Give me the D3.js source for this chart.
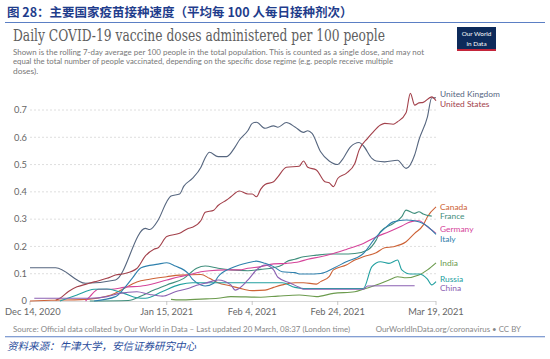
<!DOCTYPE html>
<html><head><meta charset="utf-8">
<script src="https://cdn.jsdelivr.net/npm/d3@7/dist/d3.min.js"></script>
<style>
html,body{margin:0;padding:0;background:#fff;}
svg{display:block;}
</style>
</head><body>
<svg id="c" width="550" height="359"></svg>
<script>
// ---------- DATA ----------
const seriesNames = ["United Kingdom","United States","Canada","France","Germany","Italy","India","Russia","China"];
const seriesColors = ["#56667f","#a3414b","#cd6236","#3f8e7c","#d5449a","#2f80ad","#6c9b4e","#22a0a0","#8a60b2"];
const xTickDates = ["2020-12-14","2021-01-15","2021-02-04","2021-02-24","2021-03-19"];
const xTickLabels = ["Dec 14, 2020","Jan 15, 2021","Feb 4, 2021","Feb 24, 2021","Mar 19, 2021"];
const yTicks = [0,0.1,0.2,0.3,0.4,0.5,0.6,0.7];

const ukData = [["2020-12-14",0.122],["2020-12-20",0.122],["2020-12-27",0.065],["2021-01-03",0.077],["2021-01-10",0.266],["2021-01-11",0.262],["2021-01-13",0.297],["2021-01-15",0.364],["2021-01-16",0.385],["2021-01-18",0.392],["2021-01-19",0.421],["2021-01-21",0.449],["2021-01-23",0.49],["2021-01-24",0.525],["2021-01-25",0.545],["2021-01-27",0.529],["2021-01-29",0.529],["2021-01-31",0.565],["2021-02-01",0.59],["2021-02-03",0.625],["2021-02-04",0.651],["2021-02-05",0.655],["2021-02-07",0.633],["2021-02-09",0.642],["2021-02-10",0.637],["2021-02-12",0.654],["2021-02-14",0.638],["2021-02-16",0.618],["2021-02-17",0.624],["2021-02-18",0.614],["2021-02-20",0.547],["2021-02-22",0.513],["2021-02-24",0.5],["2021-02-25",0.516],["2021-02-27",0.565],["2021-03-01",0.581],["2021-03-02",0.569],["2021-03-04",0.523],["2021-03-05",0.513],["2021-03-07",0.51],["2021-03-10",0.516],["2021-03-12",0.486],["2021-03-14",0.535],["2021-03-15",0.59],["2021-03-17",0.675],["2021-03-18",0.745],["2021-03-19",0.745]];
const usData = [["2020-12-20",0.003],["2020-12-21",0.01],["2020-12-23",0.035],["2020-12-25",0.052],["2020-12-27",0.061],["2020-12-29",0.07],["2021-01-01",0.083],["2021-01-03",0.095],["2021-01-05",0.1],["2021-01-08",0.119],["2021-01-10",0.165],["2021-01-12",0.19],["2021-01-13",0.195],["2021-01-15",0.236],["2021-01-18",0.248],["2021-01-20",0.266],["2021-01-21",0.27],["2021-01-23",0.295],["2021-01-24",0.325],["2021-01-26",0.333],["2021-01-27",0.35],["2021-01-29",0.37],["2021-01-30",0.382],["2021-02-01",0.403],["2021-02-03",0.392],["2021-02-04",0.392],["2021-02-05",0.382],["2021-02-06",0.41],["2021-02-07",0.427],["2021-02-09",0.437],["2021-02-10",0.455],["2021-02-12",0.49],["2021-02-15",0.494],["2021-02-16",0.513],["2021-02-17",0.49],["2021-02-19",0.48],["2021-02-21",0.437],["2021-02-22",0.433],["2021-02-23",0.419],["2021-02-24",0.449],["2021-02-26",0.468],["2021-02-28",0.504],["2021-03-01",0.553],["2021-03-03",0.596],["2021-03-04",0.614],["2021-03-06",0.645],["2021-03-07",0.651],["2021-03-09",0.648],["2021-03-10",0.657],["2021-03-12",0.69],["2021-03-13",0.761],["2021-03-14",0.718],["2021-03-15",0.726],["2021-03-16",0.728],["2021-03-18",0.748],["2021-03-19",0.734]];
const canadaData = [["2020-12-14",0.0],["2020-12-19",0.003],["2020-12-26",0.005],["2021-01-02",0.022],["2021-01-05",0.046],["2021-01-08",0.07],["2021-01-11",0.08],["2021-01-15",0.089],["2021-01-18",0.095],["2021-01-23",0.097],["2021-01-25",0.083],["2021-01-27",0.067],["2021-01-30",0.055],["2021-02-02",0.043],["2021-02-04",0.038],["2021-02-07",0.04],["2021-02-09",0.05],["2021-02-11",0.059],["2021-02-14",0.067],["2021-02-16",0.067],["2021-02-19",0.062],["2021-02-20",0.071],["2021-02-22",0.089],["2021-02-23",0.114],["2021-02-26",0.132],["2021-02-28",0.15],["2021-03-02",0.162],["2021-03-05",0.177],["2021-03-07",0.195],["2021-03-09",0.199],["2021-03-12",0.217],["2021-03-14",0.248],["2021-03-16",0.278],["2021-03-17",0.309],["2021-03-19",0.345]];
const franceData = [["2020-12-28",0.0],["2021-01-06",0.002],["2021-01-09",0.018],["2021-01-12",0.04],["2021-01-15",0.059],["2021-01-19",0.083],["2021-01-22",0.12],["2021-01-24",0.128],["2021-01-27",0.12],["2021-01-30",0.114],["2021-02-03",0.111],["2021-02-06",0.116],["2021-02-09",0.122],["2021-02-11",0.132],["2021-02-12",0.144],["2021-02-14",0.153],["2021-02-16",0.162],["2021-02-19",0.168],["2021-02-22",0.172],["2021-02-25",0.172],["2021-02-28",0.174],["2021-03-03",0.187],["2021-03-05",0.223],["2021-03-06",0.254],["2021-03-09",0.284],["2021-03-11",0.309],["2021-03-12",0.333],["2021-03-14",0.321],["2021-03-15",0.327],["2021-03-16",0.319],["2021-03-18",0.311]];
const germanyData = [["2020-12-27",0.0],["2020-12-28",0.016],["2020-12-30",0.043],["2021-01-02",0.043],["2021-01-05",0.05],["2021-01-10",0.057],["2021-01-15",0.077],["2021-01-18",0.089],["2021-01-20",0.095],["2021-01-23",0.107],["2021-01-25",0.111],["2021-01-29",0.114],["2021-02-01",0.114],["2021-02-03",0.12],["2021-02-06",0.126],["2021-02-09",0.136],["2021-02-12",0.138],["2021-02-15",0.144],["2021-02-17",0.153],["2021-02-20",0.162],["2021-02-23",0.174],["2021-02-26",0.189],["2021-03-02",0.211],["2021-03-05",0.235],["2021-03-08",0.254],["2021-03-11",0.275],["2021-03-13",0.29],["2021-03-15",0.294],["2021-03-17",0.272],["2021-03-19",0.248]];
const italyData = [["2020-12-29",0.0],["2021-01-03",0.016],["2021-01-05",0.046],["2021-01-07",0.085],["2021-01-09",0.122],["2021-01-13",0.135],["2021-01-15",0.14],["2021-01-17",0.128],["2021-01-20",0.101],["2021-01-21",0.08],["2021-01-23",0.059],["2021-01-24",0.055],["2021-01-26",0.065],["2021-01-27",0.089],["2021-01-30",0.12],["2021-02-01",0.132],["2021-02-03",0.14],["2021-02-05",0.146],["2021-02-07",0.138],["2021-02-09",0.126],["2021-02-11",0.107],["2021-02-14",0.104],["2021-02-15",0.099],["2021-02-17",0.099],["2021-02-20",0.101],["2021-02-23",0.12],["2021-02-26",0.144],["2021-03-02",0.174],["2021-03-05",0.235],["2021-03-07",0.266],["2021-03-09",0.29],["2021-03-12",0.297],["2021-03-14",0.294],["2021-03-16",0.284],["2021-03-18",0.26],["2021-03-19",0.244]];
const indiaData = [["2021-01-16",0.006],["2021-01-18",0.004],["2021-01-23",0.007],["2021-01-27",0.01],["2021-01-30",0.016],["2021-02-06",0.014],["2021-02-10",0.018],["2021-02-15",0.022],["2021-02-19",0.016],["2021-02-23",0.028],["2021-02-28",0.034],["2021-03-02",0.043],["2021-03-05",0.059],["2021-03-08",0.077],["2021-03-10",0.089],["2021-03-12",0.085],["2021-03-15",0.095],["2021-03-17",0.114],["2021-03-19",0.14]];
const russiaData = [["2020-12-21",0.0],["2020-12-25",0.022],["2020-12-29",0.043],["2021-01-01",0.044],["2021-01-05",0.028],["2021-01-08",0.012],["2021-01-10",0.01],["2021-01-14",0.035],["2021-01-18",0.06],["2021-01-21",0.067],["2021-02-11",0.067],["2021-02-14",0.05],["2021-02-16",0.046],["2021-03-02",0.046],["2021-03-04",0.126],["2021-03-06",0.144],["2021-03-08",0.138],["2021-03-10",0.15],["2021-03-11",0.114],["2021-03-13",0.099],["2021-03-15",0.099],["2021-03-17",0.08],["2021-03-18",0.059],["2021-03-19",0.071]];
const chinaData = [["2020-12-15",0.01],["2020-12-28",0.01],["2021-01-01",0.016],["2021-01-04",0.028],["2021-01-08",0.034],["2021-01-11",0.024],["2021-01-14",0.018],["2021-01-17",0.034],["2021-01-20",0.046],["2021-01-22",0.058],["2021-01-24",0.065],["2021-01-27",0.077],["2021-01-30",0.059],["2021-01-31",0.04],["2021-02-03",0.077],["2021-02-05",0.114],["2021-02-07",0.132],["2021-02-09",0.114],["2021-02-10",0.087],["2021-02-13",0.065],["2021-02-15",0.05],["2021-02-16",0.043],["2021-03-02",0.043],["2021-03-03",0.055],["2021-03-14",0.056]];
const seriesData = [ukData,usData,canadaData,franceData,germanyData,italyData,indiaData,russiaData,chinaData];

// ---------- DRAW ----------
const svg = d3.select("#c");
const parse = d3.timeParse("%Y-%m-%d");
const x = d3.scaleTime().domain([parse("2020-12-14"), parse("2021-03-19")]).range([30, 436]);
const y = d3.scaleLinear().domain([0, 0.7]).range([301, 110]);

// header
svg.append("text").attr("x",7).attr("y",17)
  .attr("font-family","'Noto Sans CJK SC'").attr("font-weight","bold").attr("font-size",12.5)
  .attr("fill","#1f3d8c").text("图 28：主要国家疫苗接种速度（平均每 100 人每日接种剂次）");
svg.append("line").attr("x1",5).attr("x2",545).attr("y1",22.5).attr("y2",22.5)
  .attr("stroke","#5b7fc4").attr("stroke-width",1.2);

// title and subtitle
svg.append("text").attr("x",13).attr("y",41)
  .attr("font-family","'DejaVu Serif'").attr("font-size",16).attr("fill","#5e5e5e")
  .attr("textLength",372).attr("lengthAdjust","spacingAndGlyphs")
  .text("Daily COVID-19 vaccine doses administered per 100 people");
const subLines = ["Shown is the rolling 7-day average per 100 people in the total population. This is counted as a single dose, and may not",
  "equal the total number of people vaccinated, depending on the specific dose regime (e.g. people receive multiple",
  "doses)."];
const subW = [411, 380, null];
subLines.forEach((s,i)=>{
  const t = svg.append("text").attr("x",13).attr("y",54.5+i*9.5)
    .attr("font-family","Lato").attr("font-size",8.4).attr("fill","#777").text(s);
  if (subW[i]) t.attr("textLength",subW[i]).attr("lengthAdjust","spacingAndGlyphs");
});

// logo
svg.append("rect").attr("x",457).attr("y",27).attr("width",39).attr("height",24).attr("fill","#0d2a5a");
svg.append("rect").attr("x",457).attr("y",49).attr("width",39).attr("height",2).attr("fill","#c4253a");
svg.append("text").attr("x",476.5).attr("y",35.5).attr("text-anchor","middle").attr("font-family","Lato")
  .attr("font-size",6.4).attr("fill","#fff").text("Our World");
svg.append("text").attr("x",476.5).attr("y",46).attr("text-anchor","middle").attr("font-family","Lato")
  .attr("font-size",6.4).attr("fill","#fff").text("in Data");

// grid
const g = svg.append("g");
g.selectAll("line.grid").data(yTicks.filter(d=>d>0)).join("line")
  .attr("x1",30).attr("x2",436).attr("y1",d=>y(d)).attr("y2",d=>y(d))
  .attr("stroke","#d6d6d6").attr("stroke-dasharray","2,2").attr("stroke-width",0.8);
g.append("line").attr("x1",30).attr("x2",436).attr("y1",y(0)+0.5).attr("y2",y(0)+0.5)
  .attr("stroke","#cfcfcf").attr("stroke-width",0.8);
g.selectAll("text.yl").data(yTicks).join("text")
  .attr("x",27).attr("y",d=>y(d)+3.3).attr("text-anchor","end")
  .attr("font-family","Lato").attr("font-size",9.3).attr("fill","#666")
  .text(d=>d===0?"0":d3.format(".1f")(d));

// x axis
g.selectAll("line.xt").data(xTickDates).join("line")
  .attr("x1",d=>x(parse(d))).attr("x2",d=>x(parse(d))).attr("y1",301).attr("y2",305)
  .attr("stroke","#bbb").attr("stroke-width",0.8);
g.selectAll("text.xl").data(xTickDates).join("text")
  .attr("x",(d,i)=>i===0?5:x(parse(d))).attr("y",315)
  .attr("text-anchor",(d,i)=>i===0?"start":"middle")
  .attr("font-family","Lato").attr("font-size",9.3).attr("fill","#666")
  .text((d,i)=>xTickLabels[i]);

// lines
const line = d3.line().x(d=>x(parse(d[0]))).y(d=>y(d[1])).curve(d3.curveMonotoneX);
seriesData.forEach((data,i)=>{
  svg.append("path").datum(data).attr("d",line).attr("fill","none")
    .attr("stroke",seriesColors[i]).attr("stroke-width",1.1).attr("stroke-linejoin","round");
});

// end labels with simple collision relaxation
const labels = seriesNames.map((n,i)=>{
  const last = seriesData[i][seriesData[i].length-1];
  return {name:n, color:seriesColors[i], y:y(last[1])};
}).sort((a,b)=>a.y-b.y);
const gap = 9.5;
for (let it=0; it<200; it++){
  let moved=false;
  for (let k=1;k<labels.length;k++){
    const d = labels[k].y - labels[k-1].y;
    if (d < gap){
      const m = (gap-d)/2;
      labels[k-1].y -= m; labels[k].y += m; moved=true;
    }
  }
  if(!moved) break;
}
svg.selectAll("text.lab").data(labels).join("text")
  .attr("x",440).attr("y",d=>d.y+3).attr("font-family","Lato").attr("font-size",8.4)
  .attr("fill",d=>d.color).text(d=>d.name);

// source
svg.append("text").attr("x",13).attr("y",332).attr("font-family","Lato").attr("font-size",7.9)
  .attr("fill","#888").attr("textLength",337).attr("lengthAdjust","spacingAndGlyphs")
  .text("Source: Official data collated by Our World in Data – Last updated 20 March, 08:37 (London time)");
svg.append("text").attr("x",521).attr("y",332).attr("text-anchor","end").attr("font-family","Lato").attr("font-size",7.9)
  .attr("fill","#888").text("OurWorldInData.org/coronavirus • CC BY");
svg.append("line").attr("x1",5).attr("x2",545).attr("y1",336.8).attr("y2",336.8)
  .attr("stroke","#5b7fc4").attr("stroke-width",1.1);
svg.append("text").attr("x",7).attr("y",350).attr("font-family","'Noto Sans CJK SC'").attr("font-size",10.5)
  .attr("font-style","italic").attr("fill","#2a4d9c").text("资料来源：牛津大学，安信证券研究中心");
</script>
</body></html>
